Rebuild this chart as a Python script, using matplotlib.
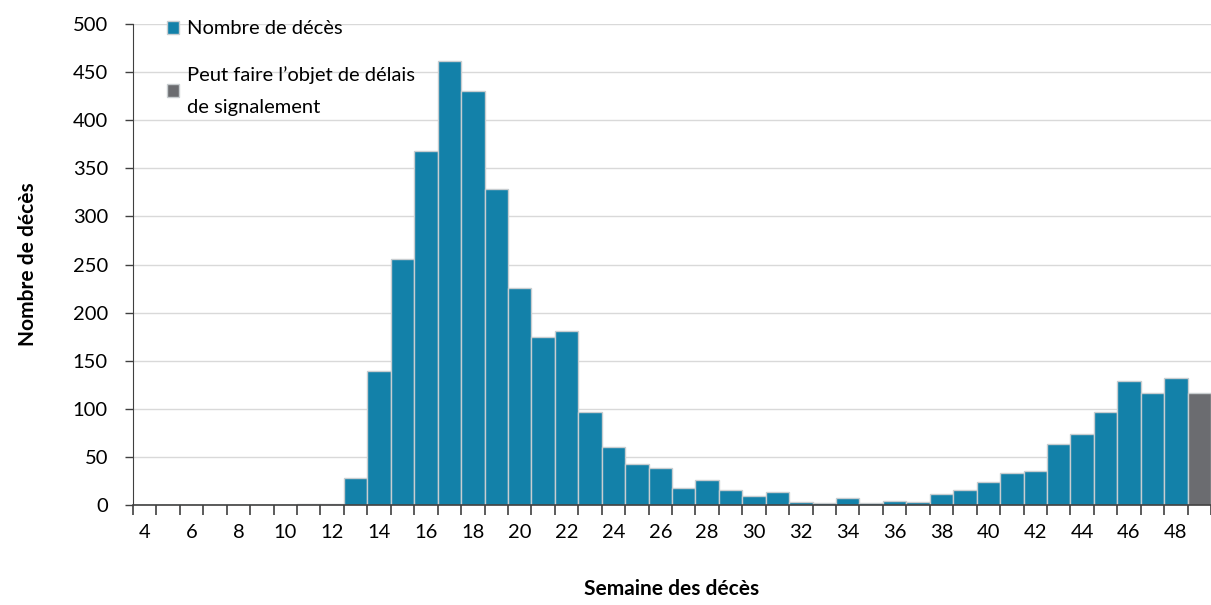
import matplotlib.pyplot as plt
import numpy as np
from matplotlib.patches import Patch
from matplotlib.ticker import MultipleLocator

plt.rcParams['font.family'] = ['Lato', 'DejaVu Sans']

# Données : semaines 4 à 49
semaines = list(range(4, 50))
deces = [0, 0, 0, 0, 0, 0, 0, 1, 1, 28,
         139, 256, 368, 462, 430, 328, 226, 175, 181, 97,
         60, 43, 38, 18, 26, 16, 9, 14, 3, 2,
         7, 2, 4, 3, 11, 16, 24, 33, 35, 63,
         74, 97, 129, 116, 132, 116]
# la dernière semaine peut faire l'objet de délais de signalement
nb_provisoire = 1

bleu = '#1381a9'
gris = '#6b6c70'
bord = '#c8cdd0'

fig = plt.figure(figsize=(12.11, 6.05), dpi=100)
ax = fig.add_axes([0.1098, 0.1653, 0.8902, 0.795])

x = np.array(semaines)
y = np.array(deces)
n = len(x) - nb_provisoire
ax.bar(x[:n], y[:n], width=1.0, color=bleu, edgecolor=bord, linewidth=1.0, zorder=3)
ax.bar(x[n:], y[n:], width=1.0, color=gris, edgecolor=bord, linewidth=1.0, zorder=3)

ax.set_xlim(3.5, 49.5)
ax.set_ylim(0, 500)
ax.yaxis.set_major_locator(MultipleLocator(50))
ax.grid(axis='y', color='#d9d9d9', linewidth=1, zorder=0)

ax.set_xticks(semaines[::2])
ax.set_xticks(np.arange(3.5, 50, 1), minor=True)
ax.tick_params(axis='x', which='major', length=0, pad=14, labelsize=14.5)
ax.tick_params(axis='x', which='minor', length=7, width=1.2, color='#404040', direction='out')
ax.tick_params(axis='y', length=6, width=1.0, color='#404040', labelsize=14.5, pad=12)

for s in ['top', 'right']:
    ax.spines[s].set_visible(False)
ax.spines['left'].set_color('#404040')
ax.spines['bottom'].set_color('#404040')
ax.spines['bottom'].set_linewidth(1.2)
ax.spines['bottom'].set_zorder(5)
ax.spines['left'].set_zorder(5)

ax.set_xlabel('Semaine des décès', fontsize=15, fontweight='bold', labelpad=27)
ax.set_ylabel('Nombre de décès', fontsize=15, fontweight='bold', labelpad=25)

handles = [Patch(facecolor=bleu, edgecolor=bord),
           Patch(facecolor=gris, edgecolor=bord)]
labels = ['Nombre de décès', 'Peut faire l\u2019objet de délais\nde signalement']
leg = ax.legend(handles, labels, loc='upper left', bbox_to_anchor=(0.015, 1.045),
                frameon=False, fontsize=14.5, handlelength=0.6, handleheight=0.6,
                handletextpad=0.4, labelspacing=1.4)
for t in leg.get_texts():
    t.set_linespacing(2.1)

plt.savefig('out.png', dpi=100)
